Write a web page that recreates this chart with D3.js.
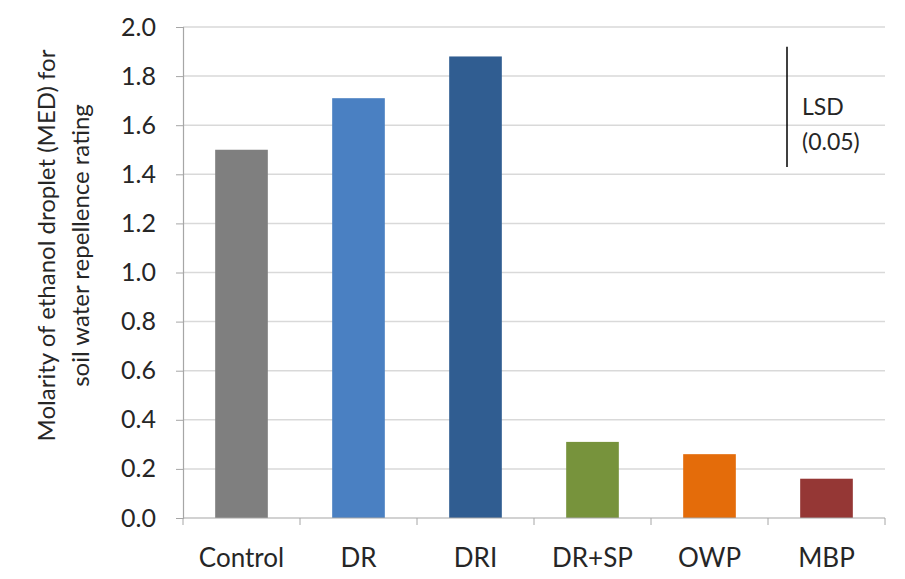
<!DOCTYPE html>
<html>
<head>
<meta charset="utf-8">
<script src="https://cdn.jsdelivr.net/npm/d3@7/dist/d3.min.js"></script>
<style>
  html, body { margin: 0; padding: 0; background: #fff; }
  svg { display: block; }
  text { font-family: Lato, "Open Sans", sans-serif; fill: #262626; }
</style>
</head>
<body>
<script>
// Treatments and their MED ratings
const categories = ["Control", "DR", "DRI", "DR+SP", "OWP", "MBP"];
const values = [1.50, 1.71, 1.88, 0.31, 0.26, 0.16];
const colors = ["#7f7f7f", "#4a80c2", "#305d91", "#77933c", "#e46c0a", "#953735"];
const yTicks = [0, 0.2, 0.4, 0.6, 0.8, 1.0, 1.2, 1.4, 1.6, 1.8, 2.0];
// Least significant difference bar (P = 0.05)
const lsdValue = 0.49;
const lsdTop = 1.92;
const lsdLabel = ["LSD", "(0.05)"];
const yTitle = ["Molarity of ethanol droplet (MED) for", "soil water repellence rating"];

const W = 905, H = 579;
const margin = { left: 183, right: 20, top: 27, bottom: 61 };

const svg = d3.select("body").append("svg").attr("width", W).attr("height", H);

const x = d3.scaleBand().domain(categories)
  .range([margin.left, W - margin.right]).paddingInner(0.55).paddingOuter(0.275);
const y = d3.scaleLinear().domain([0, 2]).range([H - margin.bottom, margin.top]);

// horizontal gridlines
svg.append("g").selectAll("line").data(yTicks.filter(d => d > 0)).join("line")
  .attr("x1", margin.left).attr("x2", W - margin.right)
  .attr("y1", d => y(d)).attr("y2", d => y(d))
  .attr("stroke", "#d9d9d9").attr("stroke-width", 1.5);

// bars
svg.append("g").selectAll("rect").data(categories).join("rect")
  .attr("x", d => x(d)).attr("width", x.bandwidth())
  .attr("y", (d, i) => y(values[i]))
  .attr("height", (d, i) => y(0) - y(values[i]))
  .attr("fill", (d, i) => colors[i]);

// y axis
const yAxis = svg.append("g").attr("transform", `translate(${margin.left},0)`)
  .call(d3.axisLeft(y).tickValues(yTicks).tickFormat(d3.format(".1f")).tickSize(7).tickPadding(20));
yAxis.select(".domain").attr("stroke", "#a6a6a6").attr("stroke-width", 1.2);
yAxis.selectAll(".tick line").attr("stroke", "#a6a6a6");
yAxis.selectAll(".tick text").attr("font-size", 25).attr("fill", "#262626")
  .style("font-family", "Lato, 'Open Sans', sans-serif");

// x axis with boundary ticks between categories
const xAxisG = svg.append("g").attr("transform", `translate(0,${y(0)})`);
xAxisG.append("line").attr("x1", margin.left).attr("x2", W - margin.right)
  .attr("stroke", "#a6a6a6").attr("stroke-width", 1.2);
const step = x.step();
const bounds = d3.range(categories.length + 1).map(i => margin.left + i * step);
xAxisG.selectAll("line.tk").data(bounds).join("line").attr("class", "tk")
  .attr("x1", d => d).attr("x2", d => d).attr("y1", 0).attr("y2", 7)
  .attr("stroke", "#a6a6a6");
xAxisG.selectAll("text").data(categories).join("text")
  .attr("x", d => x(d) + x.bandwidth() / 2).attr("y", 49)
  .attr("text-anchor", "middle").attr("font-size", 26)
  .text(d => d);

// y-axis title (two lines)
const tx = 55, ty = (y(0) + y(2)) / 2 - 27;
svg.append("text").attr("transform", `translate(${tx},${ty}) rotate(-90)`)
  .attr("text-anchor", "middle").attr("font-size", 24)
  .selectAll("tspan").data(yTitle).join("tspan")
  .attr("x", 0).attr("dy", (d, i) => i === 0 ? 0 : 34).text(d => d);

// LSD bar
const lsdX = 787;
svg.append("line").attr("x1", lsdX).attr("x2", lsdX)
  .attr("y1", y(lsdTop)).attr("y2", y(lsdTop - lsdValue))
  .attr("stroke", "#000").attr("stroke-width", 1.5);
svg.append("text").attr("font-size", 23)
  .selectAll("tspan").data(lsdLabel).join("tspan")
  .attr("x", lsdX + 15).attr("y", (d, i) => 115 + i * 35).text(d => d);
</script>
</body>
</html>
